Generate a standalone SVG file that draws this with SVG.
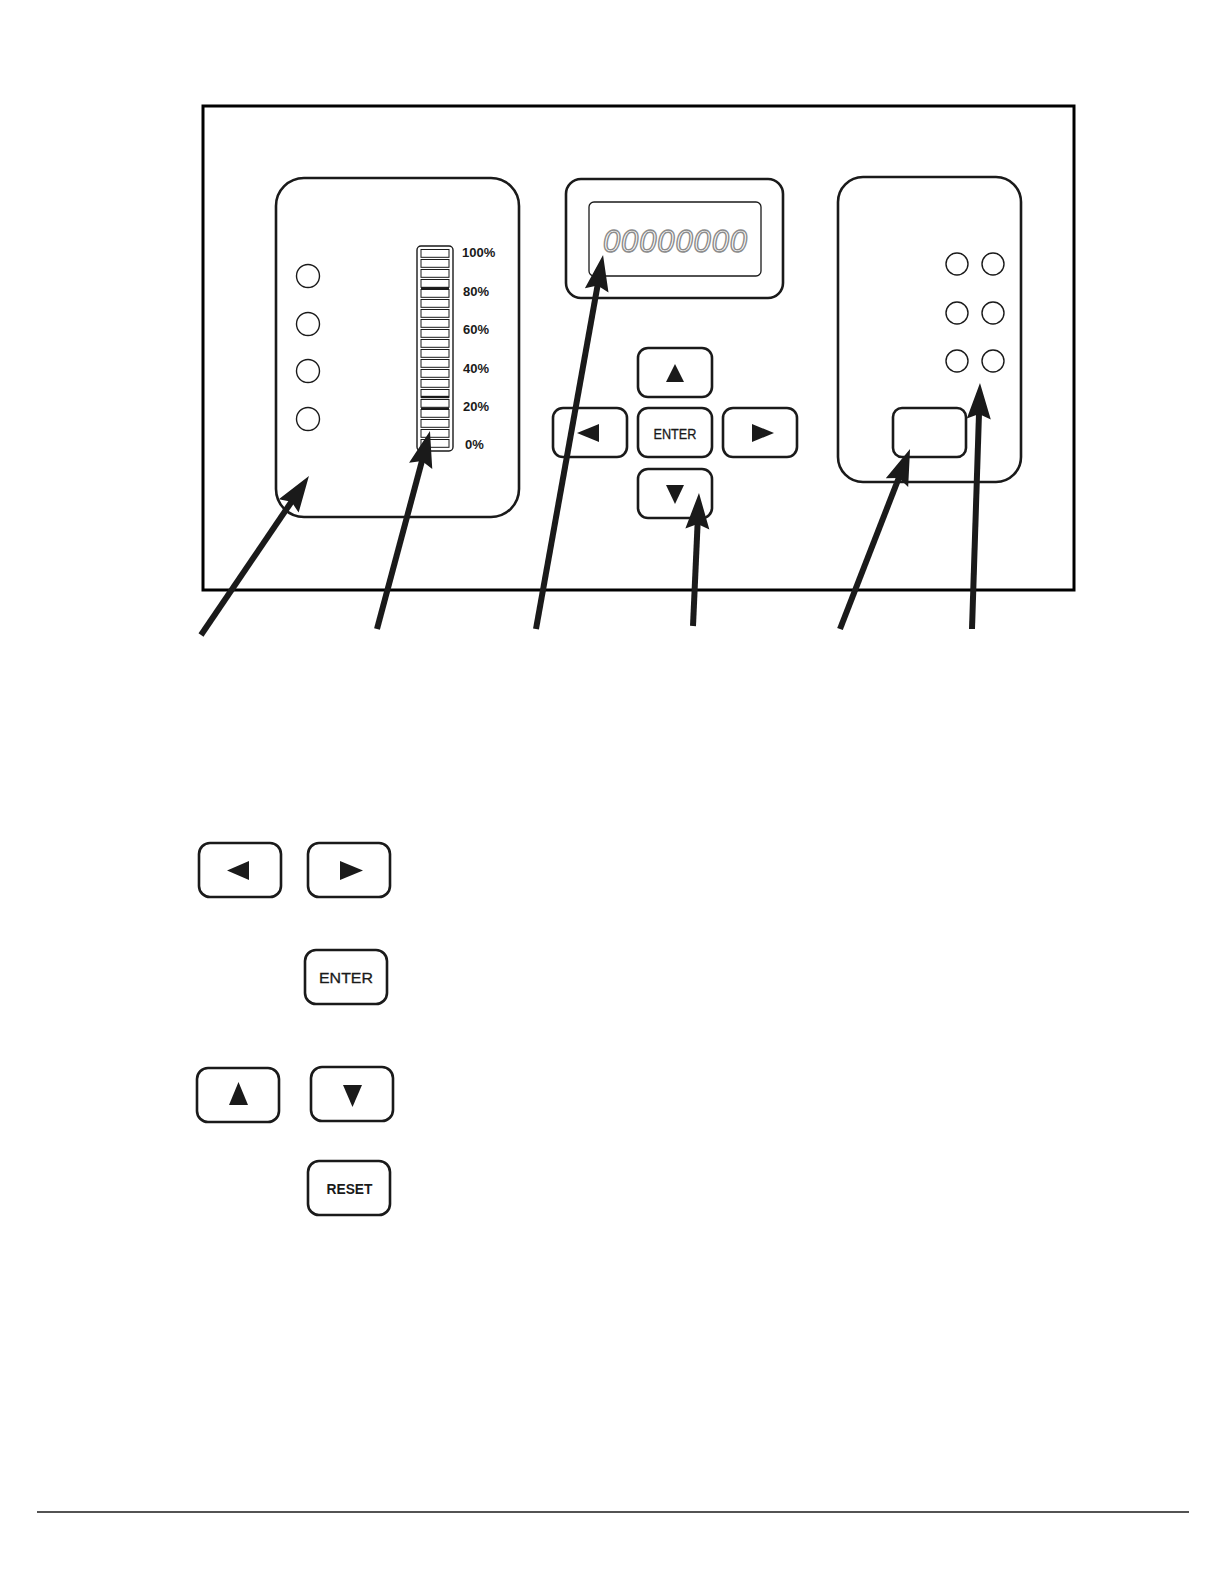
<svg xmlns="http://www.w3.org/2000/svg" width="1225" height="1585" viewBox="0 0 1225 1585">
<defs>
<style>
.pnl{fill:#fff;stroke:#1a1a1a;stroke-width:2.6}
.btn{fill:#fff;stroke:#1a1a1a;stroke-width:2.6}
.led{fill:#fff;stroke:#1a1a1a;stroke-width:1.4}
.seg{fill:#fff;stroke:#1a1a1a;stroke-width:1}
.tri{fill:#1a1a1a}
.pct{font-family:"Liberation Sans",Arial,sans-serif;font-weight:bold;font-size:13px;fill:#1a1a1a}
.lbl{font-family:"Liberation Sans",Arial,sans-serif;fill:#1a1a1a;text-anchor:middle}
.arr{stroke:#1a1a1a;stroke-width:6;fill:none;marker-end:url(#ah)}
</style>
<marker id="ah" markerUnits="userSpaceOnUse" markerWidth="38" markerHeight="26" refX="21" refY="12" orient="auto" overflow="visible">
<path d="M0,0 L36,12 L0,24 L5,12 z" fill="#1a1a1a"/>
</marker>
</defs>
<rect width="1225" height="1585" fill="#fff"/>

<rect id="frame" x="203" y="106" width="871" height="484" fill="#fff" stroke="#000" stroke-width="3"/>

<g id="left-panel">
<rect class="pnl" x="276" y="178" width="243" height="339" rx="28"/>
<circle class="led" cx="308" cy="276" r="11.5"/>
<circle class="led" cx="308" cy="324" r="11.5"/>
<circle class="led" cx="308" cy="371" r="11.5"/>
<circle class="led" cx="308" cy="419" r="11.5"/>
</g>

<g id="bargraph">
<rect x="417" y="246" width="36" height="205" rx="4" fill="#fff" stroke="#1a1a1a" stroke-width="1.4"/>
<rect class="seg" x="421" y="249.5" width="28" height="7.8"/>
<rect class="seg" x="421" y="259.5" width="28" height="7.8"/>
<rect class="seg" x="421" y="269.5" width="28" height="7.8"/>
<rect class="seg" x="421" y="279.5" width="28" height="7.8"/>
<rect class="seg" x="421" y="289.5" width="28" height="7.8"/>
<rect class="seg" x="421" y="299.5" width="28" height="7.8"/>
<rect class="seg" x="421" y="309.5" width="28" height="7.8"/>
<rect class="seg" x="421" y="319.5" width="28" height="7.8"/>
<rect class="seg" x="421" y="329.5" width="28" height="7.8"/>
<rect class="seg" x="421" y="339.5" width="28" height="7.8"/>
<rect class="seg" x="421" y="349.5" width="28" height="7.8"/>
<rect class="seg" x="421" y="359.5" width="28" height="7.8"/>
<rect class="seg" x="421" y="369.5" width="28" height="7.8"/>
<rect class="seg" x="421" y="379.5" width="28" height="7.8"/>
<rect class="seg" x="421" y="389.5" width="28" height="7.8"/>
<rect class="seg" x="421" y="399.5" width="28" height="7.8"/>
<rect class="seg" x="421" y="409.5" width="28" height="7.8"/>
<rect class="seg" x="421" y="419.5" width="28" height="7.8"/>
<rect class="seg" x="421" y="429.5" width="28" height="7.8"/>
<rect class="seg" x="421" y="439.5" width="28" height="7.8"/>
<line x1="421" y1="288.3" x2="449" y2="288.3" stroke="#1a1a1a" stroke-width="2.4"/>
<line x1="421" y1="397" x2="449" y2="397" stroke="#1a1a1a" stroke-width="2.4"/>
<line x1="421" y1="408.5" x2="449" y2="408.5" stroke="#1a1a1a" stroke-width="1.8"/>
<text class="pct" x="462" y="257">100%</text>
<text class="pct" x="463" y="296">80%</text>
<text class="pct" x="463" y="334">60%</text>
<text class="pct" x="463" y="373">40%</text>
<text class="pct" x="463" y="411">20%</text>
<text class="pct" x="465" y="449">0%</text>
</g>

<g id="display">
<rect class="pnl" x="566" y="179" width="217" height="119" rx="15"/>
<rect x="589" y="202" width="172" height="74" rx="5" fill="#fff" stroke="#1a1a1a" stroke-width="1.3"/>
<text x="603" y="252" font-family="Liberation Sans,Arial,sans-serif" font-style="italic" font-size="31" fill="none" stroke="#8c8c8c" stroke-width="1.4" textLength="144" lengthAdjust="spacing">00000000</text>
</g>

<g id="btn-up">
<rect class="btn" x="638" y="348" width="74" height="49" rx="10"/>
<polygon class="tri" points="675,364 684,382 666,382"/>
</g>
<g id="btn-left">
<rect class="btn" x="553" y="408" width="74" height="49" rx="10"/>
<polygon class="tri" points="577,433 599,424 599,442"/>
</g>
<g id="btn-enter">
<rect class="btn" x="638" y="408" width="74" height="49" rx="10"/>
<text class="lbl" x="675" y="439" font-size="14" stroke="#1a1a1a" stroke-width="0.3" textLength="43" lengthAdjust="spacingAndGlyphs">ENTER</text>
</g>
<g id="btn-right">
<rect class="btn" x="723" y="408" width="74" height="49" rx="10"/>
<polygon class="tri" points="752,424 774,433 752,442"/>
</g>
<g id="btn-down">
<rect class="btn" x="638" y="469" width="74" height="49" rx="10"/>
<polygon class="tri" points="666,485 684,485 675,504"/>
</g>

<g id="right-panel">
<rect class="pnl" x="838" y="177" width="183" height="305" rx="25"/>
<circle class="led" cx="957" cy="264" r="11"/>
<circle class="led" cx="993" cy="264" r="11"/>
<circle class="led" cx="957" cy="313" r="11"/>
<circle class="led" cx="993" cy="313" r="11"/>
<circle class="led" cx="957" cy="361" r="11"/>
<circle class="led" cx="993" cy="361" r="11"/>
<rect class="btn" x="893" y="408" width="73" height="49" rx="9"/>
</g>

<g id="connectors">
<line class="arr" x1="201" y1="635" x2="300.5" y2="488.5"/>
<line class="arr" x1="377" y1="629" x2="426.1" y2="445.5"/>
<line class="arr" x1="536" y1="629" x2="600.4" y2="269.8"/>
<line class="arr" x1="693" y1="626" x2="698.3" y2="508"/>
<line class="arr" x1="840" y1="629" x2="904.6" y2="463"/>
<line class="arr" x1="972" y1="629" x2="979.5" y2="398"/>
</g>

<g id="key-left">
<rect class="btn" x="199" y="843" width="82" height="54" rx="11"/>
<polygon class="tri" points="227,870.5 249,861 249,880"/>
</g>
<g id="key-right">
<rect class="btn" x="308" y="843" width="82" height="54" rx="11"/>
<polygon class="tri" points="340,861 363,870.5 340,880"/>
</g>
<g id="key-enter">
<rect class="btn" x="305" y="950" width="82" height="54" rx="11"/>
<text class="lbl" x="346" y="983" font-size="15.5" stroke="#1a1a1a" stroke-width="0.3" textLength="54" lengthAdjust="spacingAndGlyphs">ENTER</text>
</g>
<g id="key-up">
<rect class="btn" x="197" y="1068" width="82" height="54" rx="11"/>
<polygon class="tri" points="238.5,1082 248,1105 229,1105"/>
</g>
<g id="key-down">
<rect class="btn" x="311" y="1067" width="82" height="54" rx="11"/>
<polygon class="tri" points="343,1085 362,1085 352.5,1107"/>
</g>
<g id="key-reset">
<rect class="btn" x="308" y="1161" width="82" height="54" rx="11"/>
<text class="lbl" x="349.5" y="1194" font-size="14.5" font-weight="bold" textLength="46" lengthAdjust="spacingAndGlyphs">RESET</text>
</g>

<line id="rule" x1="37" y1="1512" x2="1189" y2="1512" stroke="#1a1a1a" stroke-width="1.6"/>
</svg>
